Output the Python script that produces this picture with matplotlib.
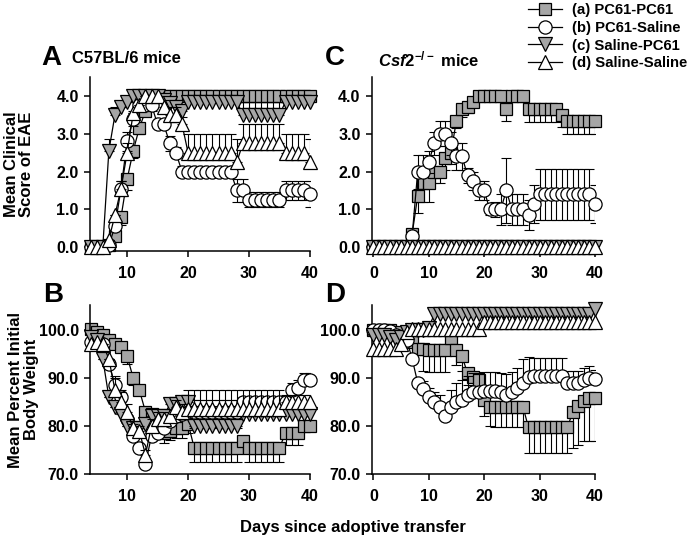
import numpy as np
import matplotlib
matplotlib.use("Agg")
import matplotlib.pyplot as plt
from matplotlib.lines import Line2D
from matplotlib.ticker import FormatStrFormatter

plt.rcParams.update({
    "font.family": ["Liberation Sans", "DejaVu Sans"],
    "font.weight": "bold",
    "axes.labelweight": "bold",
    "font.size": 12,
    "axes.spines.top": False, "axes.spines.right": False,
    "axes.linewidth": 1.1,
    "mathtext.fontset": "custom",
    "mathtext.rm": "Liberation Sans:bold",
    "mathtext.bf": "Liberation Sans:bold",
    "mathtext.it": "Liberation Sans:italic:bold",
})

GREY = "#a6a6a6"

# ---------------------------------------------------------------------------
# Data
# ---------------------------------------------------------------------------

DAYS_B6 = [4, 5, 6, 7, 8, 9, 10, 11, 12, 13, 14, 15, 16, 17, 18, 19, 20, 21, 22,
           23, 24, 25, 26, 27, 28, 29, 30, 31, 32, 33, 34, 35, 36, 37, 38, 39, 40]
DAYS_KO = [0, 1, 2, 3, 4, 5, 6, 7, 8, 9, 10, 11, 12, 13, 14, 15, 16, 17, 18, 19, 20,
           21, 22, 23, 24, 25, 26, 27, 28, 29, 30, 31, 32, 33, 34, 35, 36, 37, 38, 39, 40]

# Panel A: clinical score, C57BL/6 (days 4-40)
A_a = [0, 0, 0, 0.05, 0.3, 0.8, 1.8, 2.55, 3.15, 3.6, 3.9, 4.0, 4.0, 4.0, 4.0, 4.0,
       4.0, 4.0, 4.0, 4.0, 4.0, 4.0, 4.0, 4.0, 4.0, 4.0, 4.0, 4.0, 4.0, 4.0, 4.0, 4.0,
       4.0, 4.0, 4.0, 4.0, 4.0]
A_a_err = [0, 0, 0, 0, 0, 0.2, 0.3, 0.2, 0.15, 0, 0, 0, 0, 0, 0, 0, 0, 0, 0, 0, 0,
           0, 0, 0, 0, 0, 0, 0, 0, 0, 0, 0, 0, 0, 0, 0, 0]
A_b = [0, 0, 0, 0.05, 0.55, 1.55, 2.8, 3.4, 3.75, 3.75, 3.75, 3.25, 3.25, 2.75, 2.5,
       2.0, 2.0, 2.0, 2.0, 2.0, 2.0, 2.0, 2.0, 2.0, 1.5, 1.5, 1.25, 1.25, 1.25, 1.25,
       1.25, 1.25, 1.5, 1.5, 1.5, 1.5, 1.4]
A_b_err = [0, 0, 0, 0, 0, 0.2, 0.25, 0.2, 0.15, 0.15, 0.15, 0.1, 0.1, 0.2, 0.15, 0.15,
           0.15, 0.15, 0.15, 0.15, 0.15, 0.15, 0.15, 0.15, 0.3, 0.3, 0.2, 0.2, 0.2, 0.2,
           0.2, 0.2, 0.25, 0.25, 0.25, 0.25, 0.35]
A_c = [0, 0, 0, 2.55, 3.5, 3.7, 3.85, 4.0, 4.0, 4.0, 4.0, 4.0, 3.9, 3.8, 3.7, 3.6,
       3.85, 3.85, 3.85, 3.85, 3.85, 3.85, 3.85, 3.85, 3.85, 3.5, 3.5, 3.5, 3.5, 3.5,
       3.5, 3.5, 3.85, 3.85, 3.85, 3.85, 3.85]
A_c_err = [0, 0, 0, 0.3, 0.2, 0, 0, 0, 0, 0, 0, 0, 0.15, 0.15, 0.15, 0.15, 0.1, 0.1,
           0.1, 0.1, 0.1, 0.1, 0.1, 0.1, 0.1, 0.35, 0.35, 0.35, 0.35, 0.35, 0.35, 0.35,
           0, 0, 0, 0, 0]
A_d = [0, 0, 0, 0.2, 0.85, 1.55, 2.5, 3.55, 3.75, 4.0, 4.0, 4.0, 3.7, 3.5, 3.5, 3.25,
       2.5, 2.5, 2.5, 2.5, 2.5, 2.5, 2.5, 2.5, 2.25, 2.75, 2.75, 2.75, 2.75, 2.75, 2.75,
       2.75, 2.5, 2.5, 2.5, 2.5, 2.25]
A_d_err = [0, 0, 0, 0, 0, 0.2, 0.25, 0, 0, 0, 0, 0, 0.2, 0.2, 0.2, 0.2, 0.5, 0.5, 0.5,
           0.5, 0.5, 0.5, 0.5, 0.5, 0.6, 0.5, 0.5, 0.5, 0.5, 0.5, 0.5, 0.5, 0.5, 0.5,
           0.5, 0.5, 0.6]

# Panel B: body weight, C57BL/6 (days 4-40)
B_a = [100.3, 99.5, 99, 98, 97, 96.5, 94.5, 90, 87.5, 83, 82.5, 82, 78.5, 79, 79.5,
       79.5, 80.5, 75.5, 75.5, 75.5, 75.5, 75.5, 75.5, 75.5, 75.5, 76.8, 75.5, 75.5,
       75.5, 75.5, 75.5, 75.5, 78.5, 78.5, 78.5, 80, 80]
B_a_err = [0, 0, 0, 0, 0, 0, 1.5, 1.5, 1, 0.5, 0.5, 0.5, 2, 2, 2, 2, 2, 3, 3, 3, 3, 3,
           3, 3, 3, 2, 3, 3, 3, 3, 3, 3, 2.5, 2.5, 2.5, 0.8, 0.8]
B_b = [97.5, 98, 97, 93, 88.5, 86, 81.5, 78, 75.5, 72, 78, 78.5, 79.5, 81, 82, 82.5,
       83, 83, 83, 83, 83, 83, 83, 83, 83, 85, 85, 85, 85, 85, 85, 85, 85, 87.5, 88,
       89.5, 89.5]
B_b_err = [0, 0, 0, 0, 2, 1.5, 0.5, 0.5, 0.5, 0, 1, 1, 1, 1, 1, 1, 2.5, 2.5, 2.5, 2.5,
           2.5, 2.5, 2.5, 2.5, 2.5, 1, 1, 1, 1, 1, 1, 1, 1, 1.5, 1.5, 1.5, 1.5]
B_c = [98.5, 98, 94, 86, 84, 82.5, 80, 79.5, 79.5, 80.5, 82, 82, 82, 84.5, 84.5, 85,
       85, 80, 80, 80, 80, 80, 80, 80, 80, 82.5, 82.5, 82.5, 82.5, 82.5, 82.5, 82.5,
       82.5, 82.5, 82.5, 82.5, 82.5]
B_c_err = [0, 0, 0, 0, 0, 0, 0, 0, 0, 0, 0, 0, 0, 1, 1, 1, 1, 0.5, 0.5, 0.5, 0.5, 0.5,
           0.5, 0.5, 0.5, 0.5, 0.5, 0.5, 0.5, 0.5, 0.5, 0.5, 0.5, 0.5, 0.5, 0.5, 0.5]
B_d = [97, 97.5, 97, 94, 87.5, 85, 83, 79.5, 79, 74, 80, 81.5, 81.5, 82, 84, 83, 83.5,
       83.5, 83.5, 83.5, 83.5, 83.5, 83.5, 83.5, 83.5, 83.5, 83.5, 83.5, 83.5, 83.5,
       83.5, 83.5, 85, 85, 85, 85, 85]
B_d_err = [0, 0, 0, 0, 2.5, 2, 1.5, 1, 1, 1, 1.5, 1.5, 1.5, 1.5, 1.5, 1.5, 4, 4, 4, 4,
           4, 4, 4, 4, 4, 4, 4, 4, 4, 4, 4, 4, 1.5, 1.5, 1.5, 1.5, 1.5]

# Panel C: clinical score, Csf2-/- (days 0-40)
C_a = [0, 0, 0, 0, 0, 0, 0, 0.35, 1.35, 1.7, 1.7, 2.0, 2.0, 2.35, 2.5, 3.35, 3.65,
       3.7, 3.85, 4.0, 4.0, 4.0, 4.0, 4.0, 3.65, 4.0, 4.0, 4.0, 3.65, 3.65, 3.65, 3.65,
       3.65, 3.65, 3.5, 3.33, 3.33, 3.33, 3.33, 3.33, 3.33]
C_a_err = [0, 0, 0, 0, 0, 0, 0, 0.1, 0.45, 0.5, 0.5, 0.3, 0.3, 0.3, 0.3, 0.2, 0.2,
           0.15, 0.15, 0, 0, 0, 0, 0, 0.3, 0, 0, 0, 0.33, 0.33, 0.33, 0.33, 0.33, 0.33,
           0.33, 0.33, 0.33, 0.33, 0.33, 0.33, 0.33]
C_b = [0, 0, 0, 0, 0, 0, 0, 0.3, 2.0, 2.0, 2.25, 2.75, 3.0, 3.0, 2.75, 2.4, 2.4, 1.9,
       1.75, 1.5, 1.5, 1.0, 1.0, 1.0, 1.5, 1.0, 1.0, 1.0, 0.85, 1.15, 1.4, 1.4, 1.4,
       1.4, 1.4, 1.4, 1.4, 1.4, 1.4, 1.4, 1.15]
C_b_err = [0, 0, 0, 0, 0, 0, 0, 0, 0.45, 0.45, 0.3, 0.3, 0.33, 0.33, 0.3, 0.35, 0.35,
           0.2, 0.25, 0.25, 0.25, 0.15, 0.2, 0.4, 0.85, 0.4, 0.4, 0.4, 0.4, 0.5, 0.67,
           0.67, 0.67, 0.67, 0.67, 0.67, 0.67, 0.67, 0.67, 0.67, 0.5]
C_c = [0, 0, 0, 0, 0, 0, 0, 0, 0, 0, 0, 0, 0, 0, 0, 0, 0, 0, 0, 0, 0, 0, 0, 0, 0, 0,
       0, 0, 0, 0, 0, 0, 0, 0, 0, 0, 0, 0, 0, 0, 0]
C_c_err = [0, 0, 0, 0, 0, 0, 0, 0, 0, 0, 0, 0, 0, 0, 0, 0, 0, 0, 0, 0, 0, 0, 0, 0, 0,
           0, 0, 0, 0, 0, 0, 0, 0, 0, 0, 0, 0, 0, 0, 0, 0]
C_d = [0, 0, 0, 0, 0, 0, 0, 0, 0, 0, 0, 0, 0, 0, 0, 0, 0, 0, 0, 0, 0, 0, 0, 0, 0, 0,
       0, 0, 0, 0, 0, 0, 0, 0, 0, 0, 0, 0, 0, 0, 0]
C_d_err = [0, 0, 0, 0, 0, 0, 0, 0, 0, 0, 0, 0, 0, 0, 0, 0, 0, 0, 0, 0, 0, 0, 0, 0, 0,
           0, 0, 0, 0, 0, 0, 0, 0, 0, 0, 0, 0, 0, 0, 0, 0]

# Panel D: body weight, Csf2-/- (days 0-40)
D_a = [100, 100, 100, 100, 99.5, 98.5, 98, 97.5, 96, 96, 95.8, 95.8, 95.8, 95.8, 98.3,
       95.8, 94.5, 91, 90.2, 89.5, 85.5, 84, 84, 84, 84, 84, 84, 84, 79.7, 79.7, 79.7,
       79.7, 79.7, 79.7, 79.7, 79.7, 82.9, 84.1, 85.3, 85.8, 85.8]
D_a_err = [0, 0, 0, 0, 0, 0, 0, 0, 1, 4.5, 4.5, 4.5, 4.5, 4.5, 3, 3, 3, 2.5, 2.5, 3,
           3.5, 4, 4.3, 4.3, 4.3, 4.3, 4.3, 4.3, 5.3, 5.3, 5.3, 5.3, 5.3, 5.3, 5.3, 5.3,
           7.5, 8, 8.5, 9, 9]
D_b = [100, 100, 100, 99.8, 99, 98.5, 98, 94, 89, 87.8, 86, 85, 84, 82, 84, 85, 85.5,
       86.5, 87, 87, 87.3, 87.3, 87.3, 87, 86.5, 87, 88, 89, 90.3, 90.5, 90.5, 90.5,
       90.5, 90.5, 90.5, 89, 89, 89, 89.5, 90, 89.7]
D_b_err = [0, 0, 0, 0, 0, 0, 0, 0, 0, 1.5, 2, 2, 2.5, 2.5, 3.5, 4, 4, 4, 4, 4, 4, 4,
           4, 4, 4.3, 4.3, 4, 5, 4, 3.6, 3.6, 3.6, 3.6, 3.6, 3.6, 2.5, 2.5, 2.5, 2.5,
           2.5, 2]
D_c = [99, 99, 99, 98.5, 98, 98.5, 99.5, 100, 100, 100, 100.5, 103.3, 103.3, 103.3,
       103.3, 103.3, 103.3, 103.3, 103.3, 103.3, 103.3, 103.3, 103.3, 103.3, 103.3,
       103.3, 103.3, 103.3, 103.3, 103.3, 103.3, 103.3, 103.3, 103.3, 103.3, 103.3,
       103.3, 103.3, 103.3, 103.3, 104.3]
D_c_err = [0, 0, 0, 0, 0, 0, 0, 0, 0, 0, 0, 0, 0, 0, 0, 0, 0, 0, 0, 0, 0, 0, 0, 0, 0,
           0, 0, 0, 0, 0, 0, 0, 0, 0, 0, 0, 0, 0, 0, 0, 0]
D_d = [96, 96, 96, 96, 96, 97, 99.5, 100.3, 100.3, 100.3, 100.3, 100.3, 100.3, 100.3,
       100.3, 100.3, 100.3, 100.3, 100.3, 100.3, 101.7, 101.7, 101.7, 101.7, 101.7,
       101.7, 101.7, 101.7, 101.7, 101.7, 101.7, 101.7, 101.7, 101.7, 101.7, 101.7,
       101.7, 101.7, 101.7, 101.7, 101.7]
D_d_err = [0, 0, 0, 0, 0, 0, 0, 0, 0, 0, 0, 0, 0, 0, 0, 0, 0, 0, 0, 0, 0, 0, 0, 0, 0,
           0, 0, 0, 0, 0, 0, 0, 0, 0, 0, 0, 0, 0, 0, 0, 0]

LABELS = ["(a) PC61-PC61", "(b) PC61-Saline", "(c) Saline-PC61", "(d) Saline-Saline"]
MARKERS = [("s", GREY, 9), ("o", "white", 9.5), ("v", GREY, 10), ("^", "white", 10)]


def draw_series(ax, days, ys, errs, dirs):
    for i, (y, e, d, (mk, fc, ms)) in enumerate(zip(ys, errs, dirs, MARKERS)):
        y = np.asarray(y, dtype=float)
        e = np.asarray(e, dtype=float)
        lo = e if d in ("down", "both") else np.zeros_like(e)
        hi = e if d in ("up", "both") else np.zeros_like(e)
        z = 2 + i
        ax.plot(days, y, color="k", lw=0.9, zorder=z, clip_on=False)
        if e.any():
            ax.errorbar(days, y, yerr=[lo, hi], fmt="none", ecolor="k",
                        elinewidth=0.8, capsize=3.5, capthick=0.8, zorder=z + 0.1)
        ax.plot(days, y, ls="none", marker=mk, ms=ms, mfc=fc, mec="k", mew=0.9,
                zorder=z + 0.2, clip_on=False)


def style_axes(ax, xlim, xticks, ylim, yticks):
    ax.set_xlim(*xlim)
    ax.set_ylim(*ylim)
    ax.set_xticks(xticks)
    ax.set_yticks(yticks)
    ax.yaxis.set_major_formatter(FormatStrFormatter("%.1f"))
    ax.tick_params(direction="out", length=4, width=1.1, labelsize=11.5)
    ax.tick_params(axis="x", pad=7)
    ax.tick_params(axis="y", pad=4)


fig = plt.figure(figsize=(6.9, 5.4), dpi=100)
axA = fig.add_axes([0.1304, 0.5352, 0.3188, 0.3222])
axC = fig.add_axes([0.5387, 0.5352, 0.3236, 0.3222])
axB = fig.add_axes([0.1304, 0.1222, 0.3188, 0.3130])
axD = fig.add_axes([0.5387, 0.1222, 0.3236, 0.3130])

draw_series(axA, DAYS_B6, [A_a, A_b, A_c, A_d], [A_a_err, A_b_err, A_c_err, A_d_err],
            ["down", "both", "up", "up"])
draw_series(axB, DAYS_B6, [B_a, B_b, B_c, B_d], [B_a_err, B_b_err, B_c_err, B_d_err],
            ["down", "up", "down", "up"])
draw_series(axC, DAYS_KO, [C_a, C_b, C_c, C_d], [C_a_err, C_b_err, C_c_err, C_d_err],
            ["down", "both", "up", "up"])
draw_series(axD, DAYS_KO, [D_a, D_b, D_c, D_d], [D_a_err, D_b_err, D_c_err, D_d_err],
            ["down", "up", "up", "up"])

score_ticks = [0, 1, 2, 3, 4]
weight_ticks = [70, 80, 90, 100]
style_axes(axA, (3.9, 40), [10, 20, 30, 40], (-0.1, 4.5), score_ticks)
style_axes(axC, (-0.3, 40), [0, 10, 20, 30, 40], (-0.1, 4.5), score_ticks)
style_axes(axB, (3.9, 40), [10, 20, 30, 40], (70, 105.2), weight_ticks)
style_axes(axD, (-0.3, 40), [0, 10, 20, 30, 40], (70, 105.2), weight_ticks)

axA.set_ylabel("Mean Clinical\nScore of EAE", fontsize=12, fontweight="bold",
               linespacing=1.0)
axA.yaxis.set_label_coords(-0.255, 0.5)
axB.set_ylabel("Mean Percent Initial\nBody Weight", fontsize=12, fontweight="bold",
               linespacing=1.05)
axB.yaxis.set_label_coords(-0.232, 0.5)

# panel letters and titles
fig.text(41 / 690, 1 - 65 / 540, "A", fontsize=20, va="baseline")
fig.text(72 / 690, 1 - 63 / 540, "C57BL/6 mice", fontsize=12, va="baseline")
fig.text(325 / 690, 1 - 65 / 540, "C", fontsize=20, va="baseline")
fig.text(378 / 690, 1 - 66 / 540, r"$\mathit{Csf2}^{\mathbf{-/-}}$ mice", fontsize=12,
         va="baseline")
fig.text(43 / 690, 1 - 302 / 540, "B", fontsize=20, va="baseline")
fig.text(325 / 690, 1 - 302 / 540, "D", fontsize=20, va="baseline")

fig.text(353 / 690, 1 - 532 / 540, "Days since adoptive transfer", fontsize=12,
         ha="center", va="baseline")

handles = [Line2D([], [], color="k", lw=0.9, marker=mk, ms=ms, mfc=fc, mec="k", mew=0.9)
           for mk, fc, ms in MARKERS]
fig.legend(handles, LABELS, loc="upper left", bbox_to_anchor=(0.763, 0.997),
           frameon=False, fontsize=10.7, handlelength=2.3, handletextpad=0.65,
           labelspacing=0.25, borderpad=0.1, borderaxespad=0)

fig.savefig("out.png", dpi=100)
